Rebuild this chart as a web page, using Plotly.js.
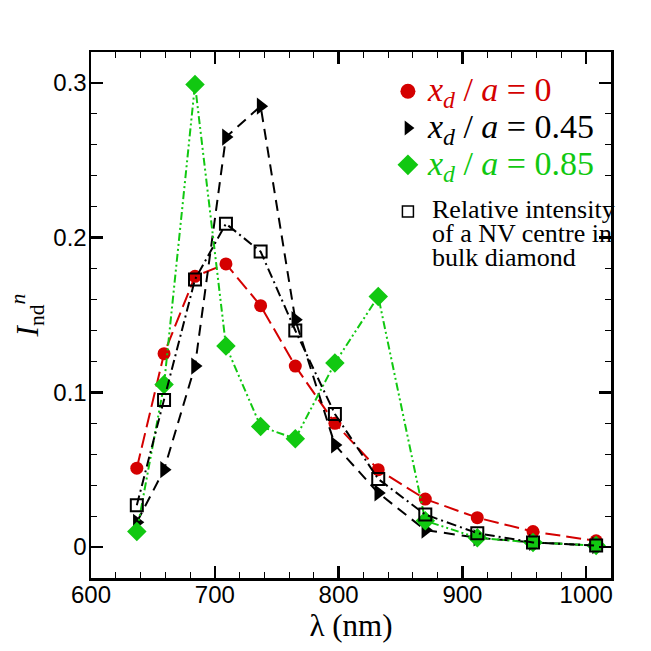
<!DOCTYPE html>
<html>
<head>
<meta charset="utf-8">
<script src="https://cdn.plot.ly/plotly-3.0.1.min.js"></script>
<style>html,body{margin:0;padding:0;background:#fff;}#chart{width:651px;height:651px;}</style>
</head>
<body>
<div id="chart"></div>
<script>
// wavelengths (nm)
var wavelength = [637, 659, 684, 709, 737, 765, 797, 832, 870, 912, 957, 1008];
// normalised intensity for x_d/a = 0
var ratio0 = [0.051, 0.125, 0.175, 0.183, 0.156, 0.117, 0.080, 0.050, 0.031, 0.019, 0.010, 0.004];
// x_d/a = 0.45
var ratio045 = [0.016, 0.050, 0.117, 0.265, 0.285, 0.147, 0.066, 0.035, 0.011, 0.006, 0.003, 0.001];
// x_d/a = 0.85
var ratio085 = [0.010, 0.105, 0.299, 0.130, 0.078, 0.070, 0.119, 0.162, 0.017, 0.006, 0.003, 0.001];
// relative intensity of NV centre in bulk diamond
var bulkNV = [0.027, 0.095, 0.173, 0.209, 0.191, 0.140, 0.086, 0.044, 0.021, 0.009, 0.003, 0.001];

var legendValues = ['0', '0.45', '0.85'];
var bulkLines = ['Relative intensity', 'of a NV centre in', 'bulk diamond'];
var xTicks = [600, 700, 800, 900, 1000];
var yTicks = [0, 0.1, 0.2, 0.3];
var yTickText = ['0', '0.1', '0.2', '0.3'];

var RED = '#d40000', GREEN = '#11c811', BLACK = '#000000';

function legName(val, col) {
  return '<span style="color:' + col + ';font-size:34px"><i>x</i><sub><i>d</i></sub> / <i>a</i> = ' + val + '</span>';
}

var traces = [
  {x: wavelength, y: ratio0, mode: 'lines+markers', showlegend: false,
   line: {color: RED, width: 2, dash: '15px,6px'},
   marker: {symbol: 'circle', size: 13, color: RED}},
  {x: wavelength, y: ratio045, mode: 'lines+markers', showlegend: false,
   line: {color: BLACK, width: 2, dash: '11px,7px'},
   marker: {symbol: 'triangle-right', size: 15, color: BLACK}},
  {x: wavelength, y: ratio085, mode: 'lines+markers', showlegend: false,
   line: {color: GREEN, width: 2, dash: '8px,3px,2px,3px,2px,3px'},
   marker: {symbol: 'diamond', size: 15, color: GREEN}},
  {x: wavelength, y: bulkNV, mode: 'lines+markers', showlegend: false,
   line: {color: BLACK, width: 2, dash: '10px,4px,2px,4px'},
   marker: {symbol: 'square-open', size: 12, color: BLACK, line: {width: 2, color: BLACK}}},
  // legend entries
  {x: [null], y: [null], mode: 'markers', legendgroup: 'a', name: legName(legendValues[0], RED), marker: {symbol: 'circle', size: 15, color: RED}},
  {x: [null], y: [null], mode: 'markers', legendgroup: 'a', name: legName(legendValues[1], BLACK), marker: {symbol: 'triangle-right', size: 13, color: BLACK}},
  {x: [null], y: [null], mode: 'markers', legendgroup: 'a', name: legName(legendValues[2], GREEN), marker: {symbol: 'diamond', size: 17, color: GREEN}},
  {x: [null], y: [null], mode: 'markers', legendgroup: 'b', name: ' ', marker: {symbol: 'square-open', size: 11, color: BLACK, line: {width: 1.5, color: BLACK}}}
];

var axisCommon = {
  showgrid: false, zeroline: false, showline: true, linecolor: '#000', linewidth: 2.5,
  mirror: 'allticks', ticks: 'inside', ticklen: 12, tickwidth: 2.5, tickcolor: '#000',
  tickfont: {family: 'Liberation Sans, Arial, sans-serif', size: 24, color: '#000'}
};

var SERIF = 'Liberation Serif, Times New Roman, serif';
var annotations = bulkLines.map(function (t, i) {
  return {text: t, xref: 'paper', yref: 'paper', x: 0.652, y: 0.700 - i * 0.0456,
    xanchor: 'left', yanchor: 'middle', showarrow: false, align: 'left',
    font: {family: SERIF, size: 26, color: '#000'}};
});

var layout = {
  width: 651, height: 651,
  margin: {l: 91, r: 40, t: 52, b: 73},
  paper_bgcolor: '#fff', plot_bgcolor: '#fff',
  xaxis: Object.assign({}, axisCommon, {
    range: [600, 1020], tickmode: 'array', tickvals: xTicks, ticktext: xTicks.map(String),
    ticklabelstandoff: -6,
    minor: {dtick: 20, ticklen: 6, tickwidth: 1, tickcolor: '#000', ticks: 'inside'},
    title: {text: 'λ (nm)', font: {family: SERIF, size: 31, color: '#000'}, standoff: 0}
  }),
  yaxis: Object.assign({}, axisCommon, {
    range: [-0.02, 0.32], tickmode: 'array', tickvals: yTicks, ticktext: yTickText,
    ticklabelstandoff: -3,
    minor: {dtick: 0.02, tick0: 0, ticklen: 6, tickwidth: 1, tickcolor: '#000', ticks: 'inside'},
    title: {text: '<i>I</i><sub>nd</sub><sup><i>n</i></sup>', font: {family: SERIF, size: 31, color: '#000'}, standoff: 6}
  }),
  legend: {
    x: 0.571, y: 0.970, xanchor: 'left', yanchor: 'top',
    bgcolor: 'rgba(0,0,0,0)', borderwidth: 0,
    font: {family: SERIF, size: 26, color: '#000'},
    traceorder: 'grouped', tracegroupgap: 10,
    itemsizing: 'trace', itemwidth: 30
  },
  annotations: annotations
};

Plotly.newPlot('chart', traces, layout, {staticPlot: true, displayModeBar: false});
</script>
</body>
</html>
